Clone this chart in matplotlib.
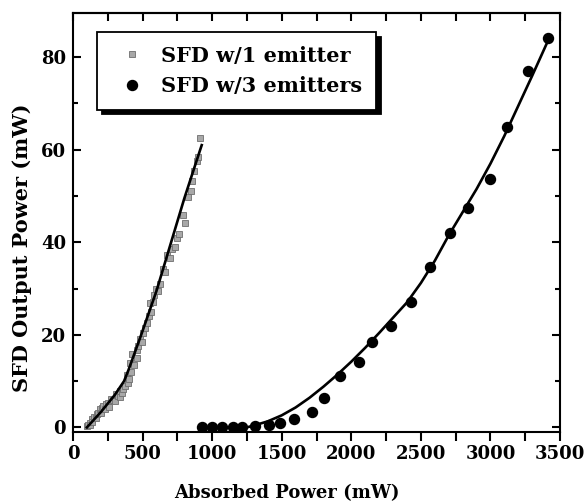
"""
SFD output power vs absorbed power, one and three emitters
"""

import matplotlib.pyplot as plt
from matplotlib.ticker import MultipleLocator

# SFD w/1 emitter: measured points (gray squares)
one_x = [100, 110, 120, 125, 134, 140, 150, 165, 170, 180, 194, 200, 210, 218,
         230, 240, 254, 260, 275, 290, 300, 310, 326, 335, 340, 350, 360, 374,
         386, 395, 405, 410, 420, 422, 440, 458, 460, 470, 482, 495, 506, 520,
         535, 545, 554, 560, 574, 585, 598, 610, 625, 646, 660, 679, 700, 715,
         734, 750, 765, 790, 806, 830, 845, 854, 870, 894, 900, 914]
one_y = [0.2, 0.6, 1.0, 0.4, 1.7, 1.2, 2.2, 2.0, 2.8, 3.2, 3.9, 3.0, 4.2, 4.6,
         4.0, 5.0, 5.3, 4.5, 6.2, 6.0, 5.8, 7.2, 6.8, 7.8, 6.5, 7.5, 8.2, 8.9,
         11.4, 9.5, 10.5, 14.0, 12.0, 15.8, 13.5, 16.8, 15.0, 17.5, 19.0, 18.5,
         20.4, 21.5, 22.6, 24.0, 26.9, 25.0, 27.0, 28.5, 30.0, 29.5, 31.0, 34.3,
         33.5, 37.2, 36.5, 38.5, 39.0, 41.0, 41.9, 46.0, 44.2, 49.8, 51.0, 53.2,
         55.5, 57.5, 58.5, 62.6]

# fit line through the 1-emitter data
fit1_x = [100, 200, 300, 367, 400, 490, 600, 705, 800, 914, 925]
fit1_y = [0.0, 3.3, 7.0, 10.0, 12.5, 20.0, 29.5, 40.0, 49.5, 60.0, 61.0]

# SFD w/3 emitters: measured points (black circles)
three_x = [926, 998, 1070, 1150, 1214, 1310, 1406, 1490, 1586, 1718, 1802,
           1922, 2054, 2150, 2282, 2426, 2563, 2709, 2839, 2997, 3117, 3271,
           3415]
three_y = [0.1, 0.1, 0.1, 0.1, 0.1, 0.2, 0.6, 1.0, 1.8, 3.3, 6.4, 11.0, 14.2,
           18.4, 22.0, 27.0, 34.6, 42.0, 47.4, 53.6, 65.0, 77.0, 84.2]

# fit line through the 3-emitter data
fit3_x = [1250, 1300, 1400, 1500, 1600, 1700, 1800, 1900, 2000, 2100, 2200,
          2300, 2400, 2500, 2600, 2700, 2800, 2900, 3000, 3100, 3200, 3300,
          3420]
fit3_y = [0.0, 0.4, 1.3, 2.6, 4.3, 6.4, 8.8, 11.4, 14.2, 17.2, 20.4, 23.7,
          27.0, 31.2, 36.0, 41.5, 46.5, 51.5, 57.0, 63.0, 69.5, 76.0, 84.0]

plt.rcParams['font.family'] = ['DejaVu Serif']
plt.rcParams['font.weight'] = 'bold'

fig = plt.figure(figsize=(5.85, 5.03), dpi=100)
ax = fig.add_axes([0.1248, 0.1412, 0.8325, 0.8324])

ax.plot(one_x, one_y, 's', ms=4.8, mfc='#a8a8a8', mec='#6e6e6e', mew=0.6,
        label='SFD w/1 emitter', zorder=2)
ax.plot(fit1_x, fit1_y, '-', color='black', lw=1.9, zorder=3)
ax.plot(three_x, three_y, 'o', ms=7.2, color='black',
        label='SFD w/3 emitters', zorder=2)
ax.plot(fit3_x, fit3_y, '-', color='black', lw=1.9, zorder=3)

ax.set_xlim(0, 3500)
ax.set_ylim(-1, 89.5)
ax.xaxis.set_major_locator(MultipleLocator(500))
ax.xaxis.set_minor_locator(MultipleLocator(250))
ax.yaxis.set_major_locator(MultipleLocator(20))
ax.yaxis.set_minor_locator(MultipleLocator(10))

for spine in ax.spines.values():
    spine.set_linewidth(1.5)

ax.tick_params(axis='x', which='both', direction='out', length=6.5, width=1.5,
               labelsize=13, pad=3)
ax.tick_params(axis='y', which='major', direction='in', length=6, width=1.5,
               labelsize=13, right=True, pad=5)
ax.tick_params(axis='y', which='minor', direction='in', length=3.5, width=1.5,
               right=True)

# mirrored ticks on top point inward
top = ax.secondary_xaxis('top')
top.xaxis.set_major_locator(MultipleLocator(500))
top.xaxis.set_minor_locator(MultipleLocator(250))
top.tick_params(which='both', direction='in', length=5.5, width=1.5,
                labeltop=False)
top.spines['top'].set_linewidth(1.5)

ax.set_xlabel('Absorbed Power (mW)', fontsize=13, fontweight='bold')
ax.set_ylabel('SFD Output Power (mW)', fontsize=15, fontweight='bold')
ax.xaxis.set_label_coords(0.44, -0.124)
ax.yaxis.set_label_coords(-0.084, 0.44)

leg = ax.legend(loc='upper left', bbox_to_anchor=(0.049, 0.955),
                borderaxespad=0, fancybox=False, frameon=True,
                shadow={'ox': 3.5, 'oy': -3.5, 'color': 'black', 'alpha': 1},
                edgecolor='black', framealpha=1,
                handletextpad=0.35, handlelength=2.1, borderpad=0.65,
                labelspacing=0.5, prop={'weight': 'bold', 'size': 15})
leg.get_frame().set_linewidth(1.3)

fig.savefig('out.png', dpi=100)
